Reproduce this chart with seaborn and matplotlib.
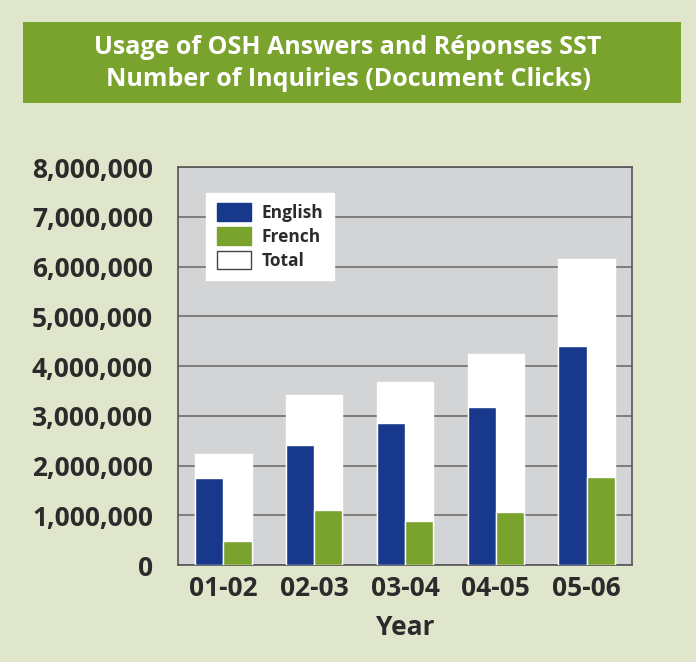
import seaborn as sns
import matplotlib.pyplot as plt
import pandas as pd
from matplotlib.patches import Patch, Rectangle

# данные
years = ['01-02', '02-03', '03-04', '04-05', '05-06']
english = [1740000, 2410000, 2850000, 3180000, 4400000]
french = [480000, 1100000, 880000, 1060000, 1770000]
total = [2230000, 3420000, 3680000, 4240000, 6150000]
yticks = [0, 1000000, 2000000, 3000000, 4000000, 5000000, 6000000, 7000000, 8000000]

bg = '#dfe6cb'
navy = '#17388b'
green = '#7aa32e'
plot_bg = '#d3d4d6'

df_total = pd.DataFrame({'year': years, 'value': total})
df_lang = pd.DataFrame({
    'year': years * 2,
    'value': english + french,
    'lang': ['English'] * len(years) + ['French'] * len(years),
})

sns.set_style('white')
plt.rcParams['font.family'] = ['Open Sans', 'DejaVu Sans']

fig = plt.figure(figsize=(6.96, 6.62), dpi=100, facecolor=bg)

# зелёная плашка с заголовком
fig.patches.append(Rectangle((23 / 696, 1 - 103 / 662), 658 / 696, 81 / 662,
                             transform=fig.transFigure, facecolor=green,
                             edgecolor='none', zorder=0))
fig.text(0.5, 1 - 48 / 662, 'Usage of OSH Answers and Réponses SST',
         ha='center', va='center', color='white', fontsize=18, fontweight='bold')
fig.text(0.5, 1 - 79 / 662, 'Number of Inquiries (Document Clicks)',
         ha='center', va='center', color='white', fontsize=18, fontweight='bold')

ax = fig.add_axes([178 / 696, 97 / 662, 454 / 696, 398 / 662])
ax.set_facecolor(plot_bg)

sns.barplot(data=df_total, x='year', y='value', color='white', width=0.62,
            saturation=1, ax=ax, zorder=2)
sns.barplot(data=df_lang, x='year', y='value', hue='lang',
            palette=[navy, green], width=0.62, saturation=1, ax=ax,
            legend=False, zorder=3)

ax.set_ylim(0, 8000000)
ax.set_yticks(yticks)
ax.set_yticklabels([f'{v:,}' for v in yticks])
ax.yaxis.grid(True, color='#7d7d7d', linewidth=1.4, zorder=1)
ax.set_axisbelow(True)
ax.tick_params(axis='y', length=0, pad=18, labelsize=19, labelcolor='#2b2b2b')
ax.tick_params(axis='x', length=0, pad=7, labelsize=19, labelcolor='#2b2b2b')
for t in ax.get_xticklabels() + ax.get_yticklabels():
    t.set_fontweight('bold')
for s in ax.spines.values():
    s.set_color('#555555')
    s.set_linewidth(1.2)

ax.set_xlabel('Year', fontsize=19, fontweight='bold', color='#2b2b2b', labelpad=9)
ax.set_ylabel('')

handles = [Patch(facecolor=navy, edgecolor=navy, label='English'),
           Patch(facecolor=green, edgecolor=green, label='French'),
           Patch(facecolor='white', edgecolor='#444444', label='Total')]
leg = ax.legend(handles=handles, loc='upper left', bbox_to_anchor=(0.062, 0.935),
                borderaxespad=0, frameon=True, fancybox=False, framealpha=1,
                edgecolor='white', fontsize=12.5, handlelength=2.0,
                handleheight=1.2, labelspacing=0.3, borderpad=0.6,
                handletextpad=0.6)
for t in leg.get_texts():
    t.set_fontweight('bold')
    t.set_color('#2b2b2b')
leg.set_zorder(5)

plt.savefig('out.png', dpi=100, facecolor=bg)
